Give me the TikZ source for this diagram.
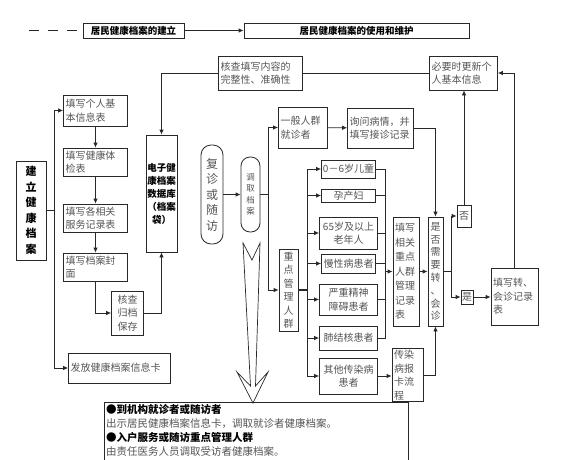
\documentclass[tikz,border=0pt]{standalone}
\usepackage{fontspec}
\setmainfont{Noto Sans CJK SC}
\usetikzlibrary{arrows.meta}
\definecolor{lc}{RGB}{40,40,40}
\definecolor{tc}{RGB}{85,85,85}
\tikzset{
  box/.style={draw=lc, line width=0.8pt, inner sep=2pt, text=tc, font=\fontsize{10}{13.5}\selectfont, align=left},
  cbox/.style={box, align=center},
  vbox/.style={box, align=center, inner sep=0pt},
  boldbox/.style={box, text=black, font=\fontsize{9.5}{12}\selectfont\bfseries},
  noteline/.style={anchor=west, inner sep=0pt, font=\fontsize{10.5}{12}\selectfont},
  ln/.style={draw=lc, line width=0.8pt},
  arr/.style={ln, -{Latex[length=5pt,width=4.5pt]}},
}
\begin{document}
\begin{tikzpicture}[x=1pt,y=-1pt]
\fill[white] (0,0) rectangle (563,459);
\useasboundingbox (0,0) rectangle (563,459);
\clip (0,0) rectangle (563,459);
% header
\node[boldbox, align=center, minimum width=101pt, minimum height=15pt, inner sep=0pt] (h1) at (133.5,30.5) {居民健康档案的建立};
\node[boldbox, align=center, minimum width=225pt, minimum height=15pt, inner sep=0pt] (h2) at (356.5,30.5) {居民健康档案的使用和维护};
\coordinate (ds) at (29,30.5);
\draw[ln, dash pattern=on 10pt off 9pt] (ds) -- (h1.west);
\draw[arr] (h1.east) -- (h2.west);
% row 2
\node[box, text width=80pt, minimum height=34pt] (chk) at (260.5,73) {核查填写内容的\\完整性、准确性};
\node[box, text width=64pt, minimum height=34pt] (upd) at (463.5,73) {必要时更新个\\人基本信息};
% left column
\node[vbox, text=black, font=\fontsize{11}{15.5}\selectfont\bfseries, minimum width=30pt, minimum height=99pt] (est) at (31,210.5) {建\\立\\健\\康\\档\\案};
\node[box, text width=60pt, minimum height=31pt] (f1) at (95.5,110.5) {填写个人基\\本信息表};
\node[box, text width=60pt, minimum height=28pt] (f2) at (95.5,162) {填写健康体\\检表};
\node[box, text width=60pt, minimum height=28pt] (f3) at (95.5,218) {填写各相关\\服务记录表};
\node[box, text width=60pt, minimum height=28pt] (f4) at (95.5,267) {填写档案封\\面};
\node[cbox, text width=28pt, minimum height=44pt] (arch) at (127.5,313) {核查\\归档\\保存};
\node[box, text width=98pt, minimum height=30pt] (card) at (119.5,368) {发放健康档案信息卡};
\node[vbox, text=black, font=\fontsize{9.5}{13}\selectfont\bfseries, minimum width=31pt, minimum height=117pt] (db) at (161.5,193.5) {电子健\\康档案\\数据库\\（档案\\袋）};
% middle
\node[vbox, rounded corners=10pt, font=\fontsize{12}{15.5}\selectfont, minimum width=22pt, minimum height=99pt] (fz) at (212,194.5) {复\\诊\\或\\随\\访};
\node[vbox, rounded corners=9pt, font=\fontsize{8.5}{11.5}\selectfont, minimum width=19pt, minimum height=75pt] (dq) at (250.5,194.5) {调\\取\\档\\案};
\node[box, text width=45pt, minimum height=41pt] (gen) at (303,127.5) {一般人群\\就诊者};
\node[box, text width=62pt, minimum height=40pt] (ask) at (380.5,128) {询问病情，并\\填写接诊记录};
\node[vbox, font=\fontsize{10}{13.5}\selectfont, minimum width=19pt, minimum height=82pt] (key) at (288.5,290) {重\\点\\管\\理\\人\\群};
\node[cbox, text width=54pt, minimum height=18pt, inner sep=0pt] (c1) at (348.5,169) {0－6岁儿童};
\node[cbox, text width=54pt, minimum height=13pt, inner sep=0pt] (c2) at (348.5,195.5) {孕产妇};
\node[cbox, text width=54pt, minimum height=32pt] (c3) at (348.5,233) {65岁及以上\\老年人};
\node[cbox, text width=54pt, minimum height=19pt, inner sep=0pt] (c4) at (348.5,263.5) {慢性病患者};
\node[cbox, text width=54pt, minimum height=31pt] (c5) at (348.5,299.5) {严重精神\\障碍患者};
\node[cbox, text width=54pt, minimum height=24pt] (c6) at (348.5,338) {肺结核患者};
\node[cbox, text width=54pt, minimum height=36pt] (c7) at (348.5,376) {其他传染病\\患者};
% right
\node[box, font=\fontsize{10}{14.5}\selectfont, text width=22pt, minimum height=109pt] (rec) at (406,271.5) {填写\\相关\\重点\\人群\\管理\\记录\\表};
\node[vbox, font=\fontsize{10}{12.8}\selectfont, minimum width=15pt, minimum height=109pt] (need) at (435.5,271.5) {是\\否\\需\\要\\转\\、\\会\\诊};
\node[vbox, minimum width=14pt, minimum height=22pt] (no) at (464,216) {否};
\node[vbox, minimum width=12pt, minimum height=14pt] (yes) at (467,297) {是};
\node[box, text width=43pt, minimum height=57pt] (zh) at (514.5,296.5) {填写转、\\会诊记录\\表};
\node[box, text width=27pt, minimum height=52pt] (inf) at (407.5,375) {传染\\病报\\卡流\\程};
% bottom text box
\node[draw=lc, line width=0.8pt, anchor=north west, inner sep=0pt, minimum width=304pt, minimum height=70pt] (note) at (104,402) {};
\node[noteline, font=\fontsize{10.5}{12}\selectfont\bfseries] (n1) at (106,410) {●到机构就诊者或随访者};
\node[noteline, text=tc] (n2) at (106,424) {出示居民健康档案信息卡，调取就诊者健康档案。};
\node[noteline, font=\fontsize{10.5}{12}\selectfont\bfseries] (n3) at (106,438) {●入户服务或随访重点管理人群};
\node[noteline, text=tc] (n4) at (106,451.5) {由责任医务人员调取受访者健康档案。};
% big hollow arrow
\draw[lc, line width=0.7pt, line join=miter] (243,243) -- (252,260) -- (260,243) -- (255.5,386) -- (268,372) -- (253,403) -- (237,372) -- (250.5,386) -- cycle;
% connectors left
\draw[arr] (chk.west) -| (db.north);
\draw[ln] (chk.east) -- (upd.west);
\coordinate (lb) at (54,210.5);
\draw[ln] (est.east) -- (lb);
\draw[arr] (lb) |- (f1.west);
\draw[arr] (lb) |- (card.west);
\draw[arr] (f1) -- (f2);
\draw[arr] (f2) -- (f3);
\draw[arr] (f3) -- (f4);
\draw[arr] (f4.south) |- (arch.west);
\draw[arr] (arch.east) -| (db.south);
% middle
\draw[arr] (fz) -- (dq);
\coordinate (mb) at (268,194.5);
\draw[ln] (dq.east) -- (mb);
\draw[arr] (mb) |- (gen.west);
\draw[arr] (mb) |- (key.west);
\draw[arr] (gen) -- (ask);
\draw[arr] (ask.east) -| (need.north);
\coordinate (kb) at (307,290);
\draw[ln, line width=1.6pt] (key.east) -- (kb);
\foreach \c in {c1,c2,c3,c4,c5,c6,c7} \draw[arr] (kb) |- (\c.west);
\coordinate (rb) at (385,271.5);
\foreach \c in {c1,c2,c3,c4,c5,c6} \draw[ln] (\c.east) -| (rb);
\draw[arr] (rb) -- (rec.west);
\draw[arr] (c7.east) -- (inf.west |- c7.east);
\draw[arr] (inf.east) -| (need.south);
\draw[arr] (rec) -- (need);
\coordinate (nb) at (451,271.5);
\draw[ln, line width=1.4pt] (need.east) -- (nb);
\draw[arr] (nb) |- (no.west);
\draw[arr] (nb) |- (yes.west);
\draw[arr] (no.north) -- (no.north |- upd.south);
\draw[arr] (yes.east) -- (zh.west |- yes.east);
\draw[arr] (zh.north) |- (upd.east);
\end{tikzpicture}
\end{document}
